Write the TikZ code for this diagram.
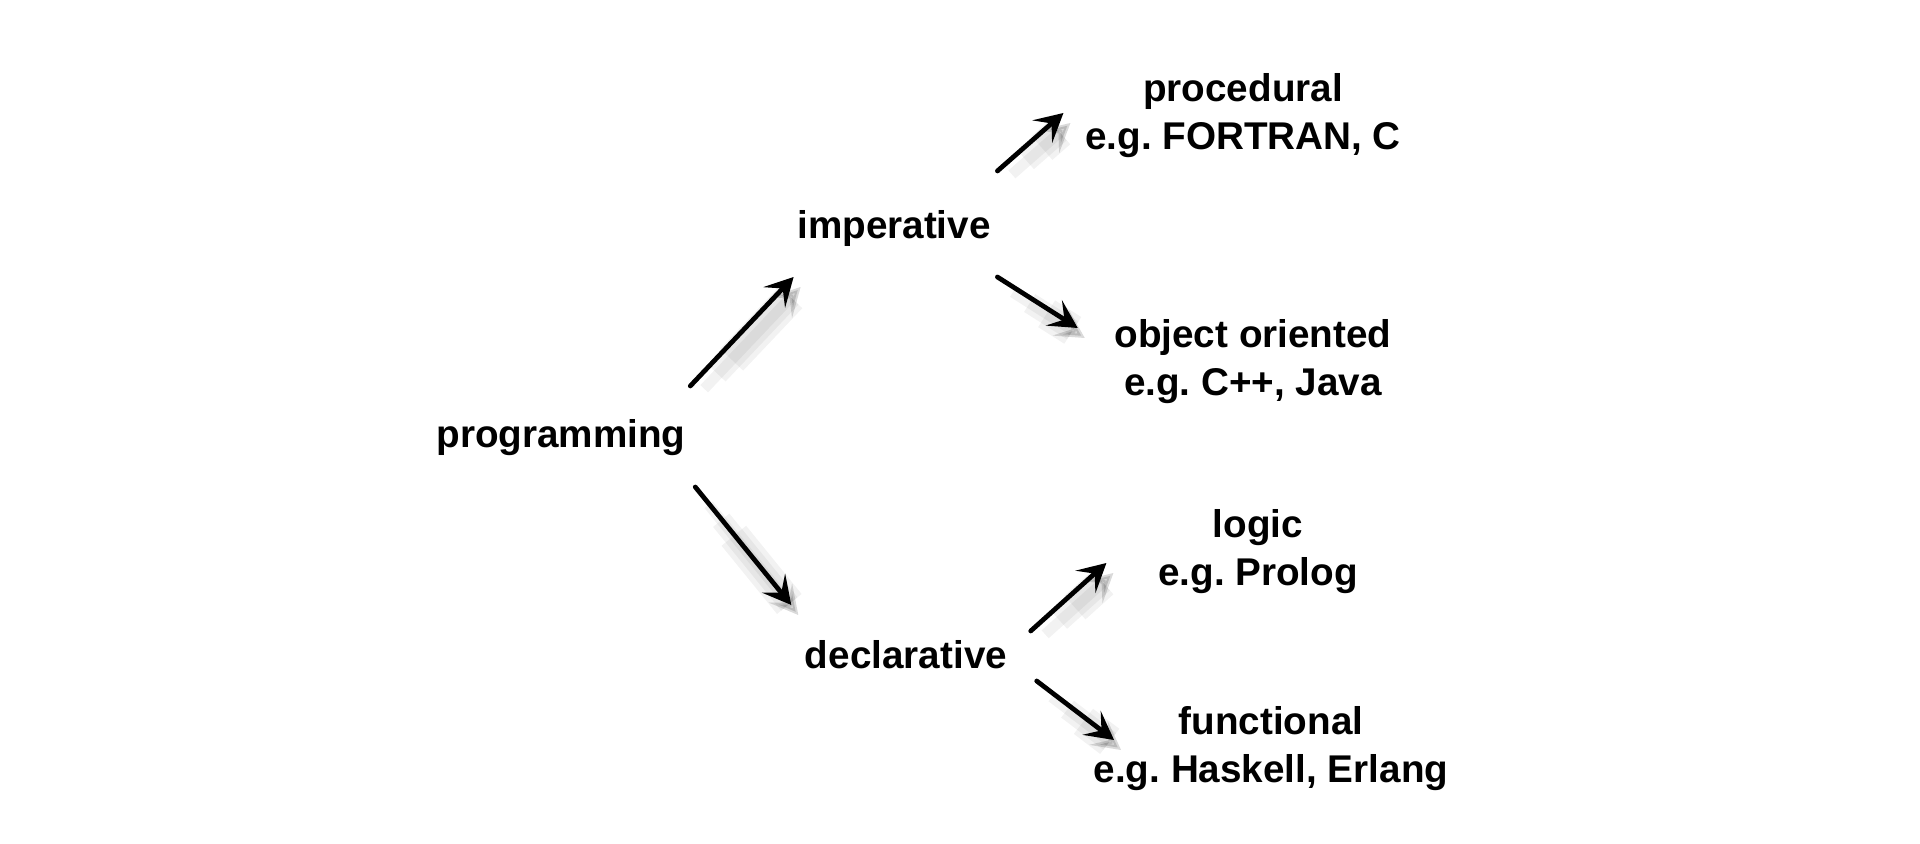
\documentclass[tikz,border=0pt]{standalone}
\usepackage{fontspec}
\setmainfont{Liberation Sans}
\usetikzlibrary{arrows.meta}
\frenchspacing

\tikzset{
  lbl/.style={font=\fontsize{11}{13.7}\selectfont\bfseries, align=center, inner sep=0pt},
  shade/.style 2 args={preaction={draw=black, opacity=0.05, line width=#1, shorten <=#2,
    transform canvas={shift={(0.07,-0.10)}}}},
  arr/.style={line width=1.35pt, line cap=round, -{Stealth[length=8pt,width=8.5pt,inset=3.5pt]},
    shade={9pt}{5mm}, shade={6pt}{3mm}, shade={3pt}{1mm}},
}

\begin{document}
\begin{tikzpicture}
    \useasboundingbox (0,0) rectangle (19.2,8.43);
    % root and first level
    \node[lbl] (prog) at (5.61,4.05) {programming};
    \node[lbl] (imp) at (8.94,6.14) {imperative};
    \node[lbl] (decl) at (9.06,1.88) {declarative};
    % second level
    \node[lbl] (proc) at (12.43,7.27) {procedural\\e.g. FORTRAN, C};
    \node[lbl] (oo) at (12.53,4.81) {object oriented\\e.g. C++, Java};
    \node[lbl] (logic) at (12.58,2.91) {logic\\e.g. Prolog};
    \node[lbl] (func) at (12.71,0.94) {functional\\e.g. Haskell, Erlang};
    % arrows
    \draw[arr] ([shift={(0.04,0.52)}]prog.east) -- ([shift={(-0.03,-0.48)}]imp.west);
    \draw[arr] ([shift={(0.09,-0.49)}]prog.east) -- ([shift={(-0.13,0.50)}]decl.west);
    \draw[arr] ([shift={(0.06,0.58)}]imp.east) -- ([shift={(-0.21,0.03)}]proc.west);
    \draw[arr] ([shift={(0.06,-0.48)}]imp.east) -- ([shift={(-0.36,0.34)}]oo.west);
    \draw[arr] ([shift={(0.23,0.24)}]decl.east) -- ([shift={(-0.51,-0.11)}]logic.west);
    \draw[arr] ([shift={(0.29,-0.26)}]decl.east) -- ([shift={(0.21,0.09)}]func.west);
\end{tikzpicture}
\end{document}
